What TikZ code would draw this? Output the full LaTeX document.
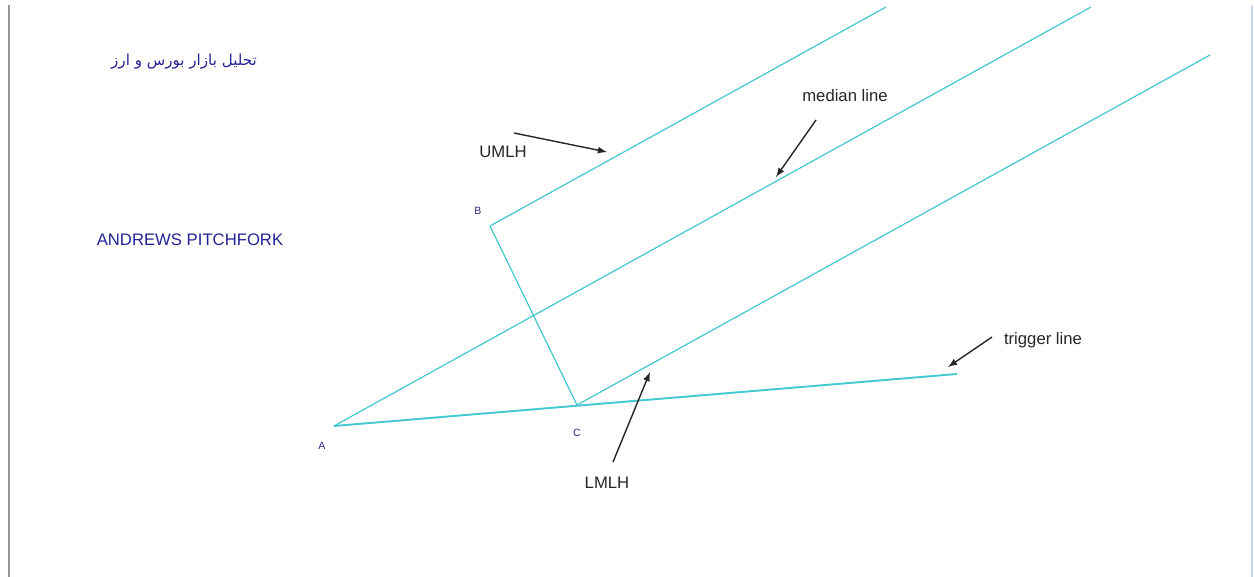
\documentclass[tikz,border=0pt]{standalone}
\usepackage{fontspec}
\setmainfont{Liberation Sans}
\newfontfamily\persianfont[Script=Arabic]{DejaVu Sans}
\TeXXeTstate=1
\usepackage{tikz}
\usetikzlibrary{calc}
\definecolor{forkcyan}{RGB}{70,200,210}
\definecolor{titleblue}{RGB}{35,35,150}
\definecolor{pointblue}{RGB}{40,40,130}
\definecolor{framegray}{RGB}{150,150,150}
\definecolor{frameblue}{RGB}{200,215,235}

\begin{document}
\begin{tikzpicture}[x=0.02cm,y=-0.02cm,
    forkline/.style={draw=forkcyan, line width=0.7pt},
    pointlabel/.style={text=pointblue, font=\fontsize{6}{7}\selectfont, inner sep=1pt},
    notelabel/.style={text=black!85, font=\fontsize{9.5}{11}\selectfont, inner sep=1pt},
    pointer/.style={draw=black!85, line width=0.8pt, -latex}
]
\useasboundingbox (0,0) rectangle (1254,577);

% page frame
\draw[framegray, line width=0.8pt] (9,5) -- (9,577);
\draw[frameblue, line width=0.8pt] (1252,5) -- (1252,577);

% titles
\node[text=titleblue, font=\persianfont\fontsize{8.6}{10}\selectfont] (fa) at (184,62) {\beginR تحلیل بازار بورس و ارز\endR};
\node[text=titleblue, font=\fontsize{9.5}{11}\selectfont] (title) at (190,240) {ANDREWS PITCHFORK};

% pivot points
\coordinate (A) at (334,426);
\coordinate (B) at (490,226);
\coordinate (C) at (577,405);
\coordinate (M) at ($(B)!0.5!(C)$);
\coordinate (Tend) at (957,374);
\coordinate (Mend) at (1091,7);
\coordinate (Uend) at (886,7);
\coordinate (Lend) at (1210,55);

\node[pointlabel] (Alab) at (322,446) {A};
\node[pointlabel] (Blab) at (478,211) {B};
\node[pointlabel] (Clab) at (577,433) {C};

% the fork
\draw[forkline] (A) -- (Mend);
\draw[forkline] (B) -- (Uend);
\draw[forkline] (C) -- (Lend);
\draw[forkline] (B) -- (C);
\draw[forkline, line width=1.1pt] (A) -- (Tend);

% notes
\node[notelabel] (umlh) at (503,152) {UMLH};
\node[notelabel] (median) at (845,96) {median line};
\node[notelabel] (trigger) at (1043,340) {trigger line};
\node[notelabel] (lmlh) at (607,483) {LMLH};

\coordinate (umlhtail) at (514,133);
\coordinate (umlhtip) at (607,152);
\coordinate (medtail) at (816,120);
\coordinate (medtip) at (776,177);
\coordinate (trigtail) at (992,337);
\coordinate (trigtip) at (948,367);
\coordinate (lmlhtail) at (613,462);
\coordinate (lmlhtip) at (650,372);

\draw[pointer] (umlhtail) -- (umlhtip);
\draw[pointer] (medtail) -- (medtip);
\draw[pointer] (trigtail) -- (trigtip);
\draw[pointer] (lmlhtail) -- (lmlhtip);

\end{tikzpicture}
\end{document}
